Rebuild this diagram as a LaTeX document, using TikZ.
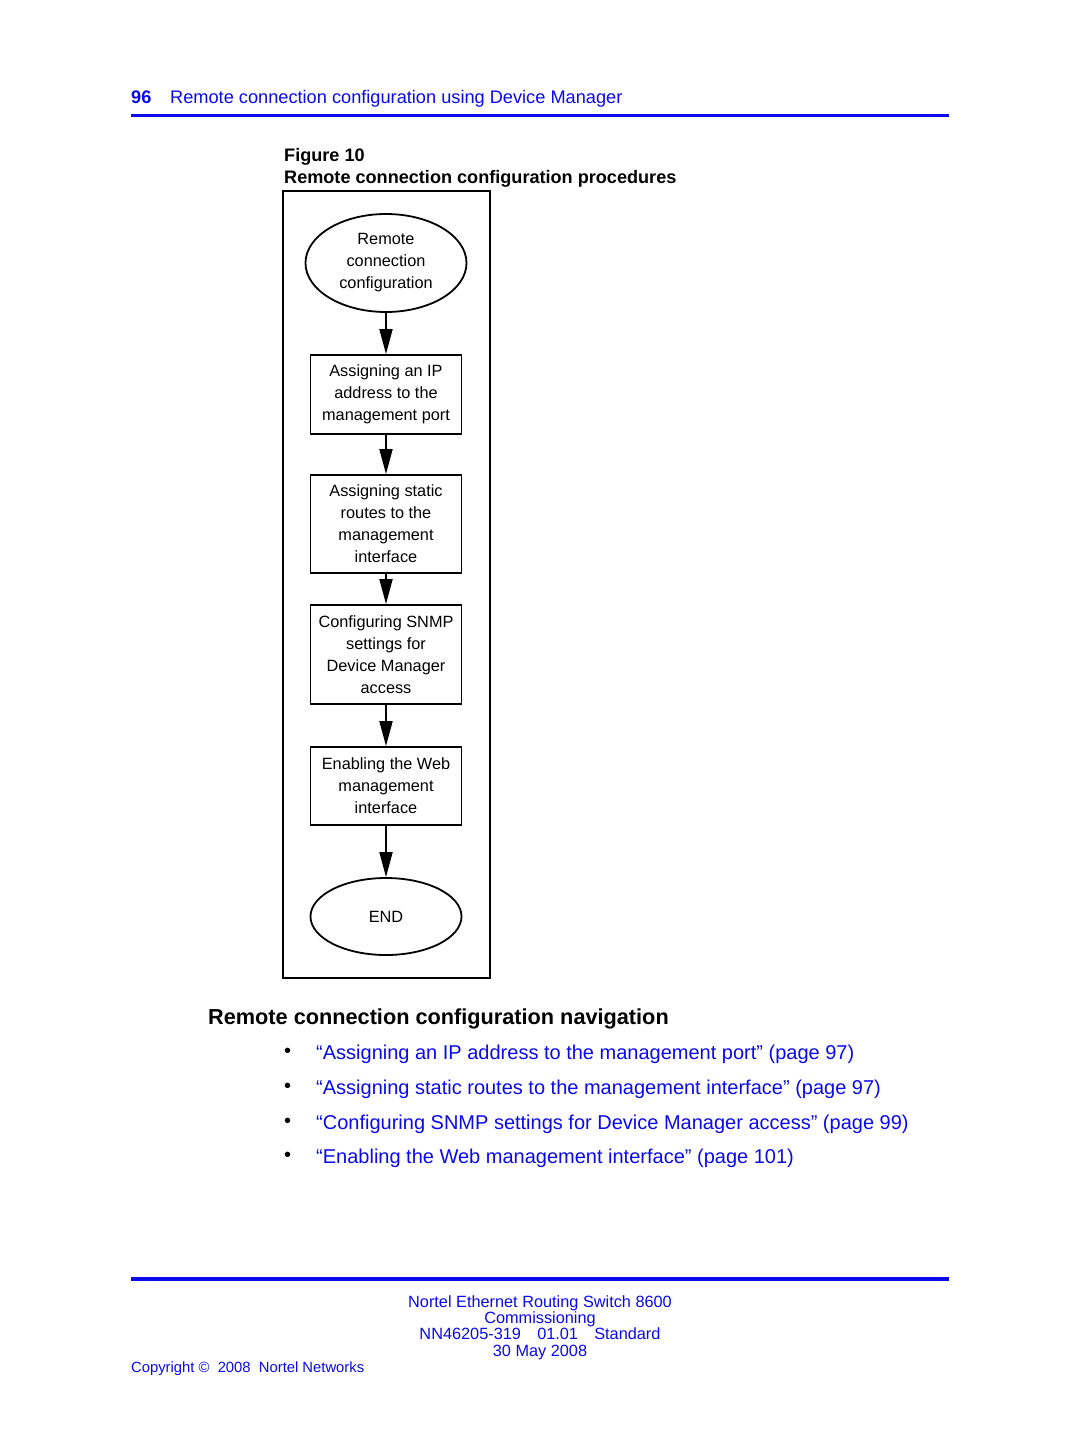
\documentclass[tikz,border=0pt]{standalone}
\usepackage{fontspec}
\setmainfont{Liberation Sans}
\usetikzlibrary{shapes.geometric,arrows.meta}
\definecolor{nblue}{RGB}{10,10,235}
\begin{document}
\begin{tikzpicture}[x=1pt,y=-1pt,
  fbox/.style={draw,line width=1.8pt,rectangle,minimum width=151pt,inner sep=0pt,align=center,font=\fontsize{16.3}{22}\selectfont},
  fell/.style={draw,line width=1.8pt,ellipse,inner sep=0pt,align=center,font=\fontsize{16.3}{22}\selectfont},
  arr/.style={line width=1.8pt,-{Triangle[length=25pt,width=13pt]}},
  btxt/.style={text=nblue,anchor=base west,inner sep=0pt,font=\fontsize{20}{24}\selectfont},
  ftxt/.style={text=nblue,anchor=base,inner sep=0pt,font=\fontsize{16.3}{17}\selectfont,align=center}]
\useasboundingbox[fill=white] (0,0) rectangle (1080,1440);
% header
\node[anchor=base west,inner sep=0pt,text=nblue,font=\fontsize{18.2}{20}\selectfont\bfseries] (pg) at (131,103) {96};
\node[anchor=base west,inner sep=0pt,text=nblue,font=\fontsize{18.2}{20}\selectfont] (ht) at (170,103) {Remote connection configuration using Device Manager};
\fill[nblue] (131,113.5) rectangle (949,117);
% caption
\node[anchor=base west,inner sep=0pt,font=\fontsize{18.1}{20}\selectfont\bfseries] (fig) at (284,161) {Figure 10};
\node[anchor=base west,inner sep=0pt,font=\fontsize{18.1}{20}\selectfont\bfseries] (cap) at (284,183) {Remote connection configuration procedures};
% frame
\draw[line width=2pt] (283,191) rectangle (490,978);
% flow
\node[fell,minimum width=161pt,minimum height=98pt] (e1) at (386,263) {Remote\\connection\\configuration};
\node[fbox,minimum height=79pt] (b1) at (386,394.5) {Assigning an IP\\address to the\\management port};
\node[fbox,minimum height=98pt] (b2) at (386,524) {Assigning static\\routes to the\\management\\interface};
\node[fbox,minimum height=99pt] (b3) at (386,654.5) {Configuring SNMP\\settings for\\Device Manager\\access};
\node[fbox,minimum height=78pt] (b4) at (386,786) {Enabling the Web\\management\\interface};
\node[fell,minimum width=151pt,minimum height=77pt] (e2) at (386,916.5) {END};
\draw[arr] (e1) -- (b1);
\draw[arr] (b1) -- (b2);
\draw[arr] (b2) -- (b3);
\draw[arr] (b3) -- (b4);
\draw[arr] (b4) -- (e2);
% navigation
\node[anchor=base west,inner sep=0pt,font=\fontsize{21.7}{24}\selectfont\bfseries] (nav) at (208,1024) {Remote connection configuration navigation};
\node[anchor=base west,inner sep=0pt,font=\fontsize{20}{23}\selectfont] (d1) at (284,1057) {•};
\node[anchor=base west,inner sep=0pt,font=\fontsize{20}{23}\selectfont] (d2) at (284,1092) {•};
\node[anchor=base west,inner sep=0pt,font=\fontsize{20}{23}\selectfont] (d3) at (284,1127) {•};
\node[anchor=base west,inner sep=0pt,font=\fontsize{20}{23}\selectfont] (d4) at (284,1161) {•};
\node[btxt] (l1) at (316,1059) {“Assigning an IP address to the management port” (page 97)};
\node[btxt] (l2) at (316,1094) {“Assigning static routes to the management interface” (page 97)};
\node[btxt] (l3) at (316,1129) {“Configuring SNMP settings for Device Manager access” (page 99)};
\node[btxt] (l4) at (316,1163) {“Enabling the Web management interface” (page 101)};
% footer
\fill[nblue] (131,1277) rectangle (949,1280.5);
\node[ftxt] (f1) at (540,1307) {Nortel Ethernet Routing Switch 8600};
\node[ftxt] (f2) at (540,1323) {Commissioning};
\node[ftxt] (f3) at (540,1339.5) {NN46205-319\hspace{1em}01.01\hspace{1em}Standard};
\node[ftxt] (f4) at (540,1356) {30 May 2008};
\node[anchor=base west,inner sep=0pt,text=nblue,font=\fontsize{14.8}{16}\selectfont] (cp) at (131,1372) {Copyright \char"00A9\ \ 2008\ \ Nortel Networks};
\end{tikzpicture}
\end{document}
